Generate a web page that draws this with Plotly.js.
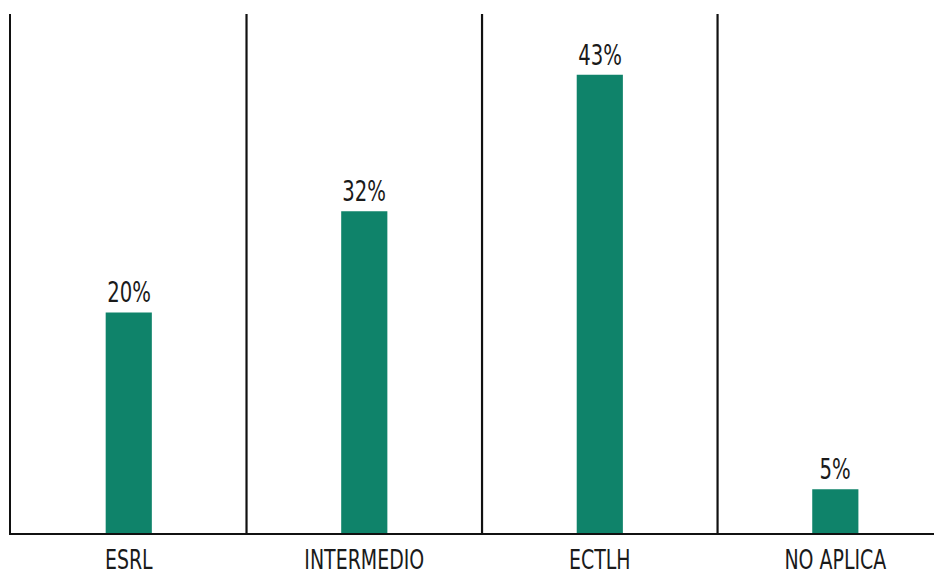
<!DOCTYPE html>
<html>
<head>
<meta charset="utf-8">
<script src="https://cdn.plot.ly/plotly-3.0.1.min.js"></script>
<style>html,body{margin:0;padding:0;background:#fff;}#chart{width:934px;height:576px;}</style>
</head>
<body>
<div id="chart"></div>
<script>
const categories = ["ESRL", "INTERMEDIO", "ECTLH", "NO APLICA"];
const values = [20.7, 30.2, 43, 4.1];
const labels = ["20%", "32%", "43%", "5%"];

const FONT = '"DejaVu Sans Condensed", "Liberation Sans Narrow", sans-serif';
const BAR = '#0f836a';
const NARROW = 0.78;

const xIdx = categories.map((c, i) => i);

const trace = {
  type: 'bar',
  x: xIdx,
  y: values,
  width: 0.196,
  marker: {color: BAR, line: {width: 0}},
  hoverinfo: 'skip'
};

const annotations = xIdx.map((i) => ({
  x: i, y: values[i], xref: 'x', yref: 'y',
  text: labels[i], showarrow: false,
  yanchor: 'bottom', yshift: 1,
  font: {family: FONT, size: 28, color: '#1a1a1a'}
}));

const shapes = [0.5, 1.5, 2.5].map((b) => ({
  type: 'line', xref: 'x', yref: 'paper', x0: b, x1: b, y0: 0, y1: 1,
  line: {color: '#111', width: 2.2}
}));

const layout = {
  width: 934, height: 576,
  margin: {l: 11, r: 0, t: 14, b: 43, pad: 0},
  paper_bgcolor: '#fff', plot_bgcolor: '#fff',
  showlegend: false,
  xaxis: {
    range: [-0.5, 3.419],
    tickvals: xIdx, ticktext: categories,
    showgrid: false, zeroline: false,
    showline: true, linecolor: '#111', linewidth: 2.2,
    ticks: '', ticklabelstandoff: 1,
    tickfont: {family: FONT, size: 27, color: '#1a1a1a'},
    fixedrange: true
  },
  yaxis: {
    range: [0, 48.7],
    showgrid: false, zeroline: false, showticklabels: false,
    showline: true, linecolor: '#111', linewidth: 2.2, ticks: '',
    fixedrange: true
  },
  annotations: annotations,
  shapes: shapes
};

Plotly.newPlot('chart', [trace], layout, {displayModeBar: false, staticPlot: true}).then(() => {
  document.querySelectorAll('#chart .xtick text, #chart .annotation-text').forEach((t) => {
    const w = t.getComputedTextLength();
    t.setAttribute('textLength', (w * NARROW).toFixed(1));
    t.setAttribute('lengthAdjust', 'spacingAndGlyphs');
  });
});
</script>
</body>
</html>
